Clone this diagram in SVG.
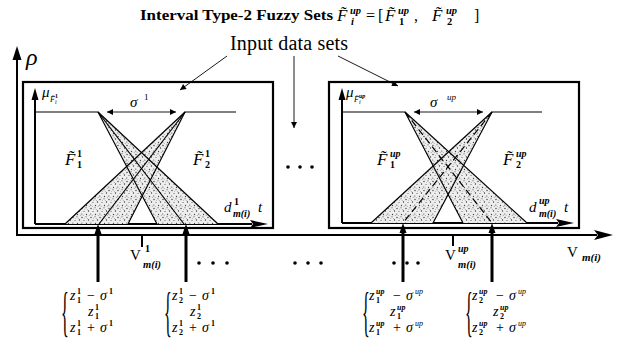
<svg xmlns="http://www.w3.org/2000/svg" width="621" height="343" viewBox="0 0 621 343" font-family="'Liberation Serif', 'Times New Roman', serif">
<style>
text{font-family:"Liberation Serif","Times New Roman",serif;fill:#000}
.i{font-style:italic}
.b{font-weight:bold}
.bi{font-weight:bold;font-style:italic}
.ax{stroke:#000;stroke-width:2;fill:none}
.box{stroke:#000;stroke-width:2.2;fill:none}
.tl{stroke:#000;stroke-width:1.2;fill:none}
.thin{stroke:#000;stroke-width:0.9;fill:none}
.up{stroke:#000;stroke-width:3;fill:none}
.tri{fill:url(#st);stroke:none}
</style>
<defs>
<pattern id="st" width="9" height="9" patternUnits="userSpaceOnUse">
<rect width="9" height="9" fill="#eeeeee"/>
<circle cx="1" cy="1.5" r="0.65" fill="#333"/>
<circle cx="5" cy="0.8" r="0.55" fill="#444"/>
<circle cx="7.5" cy="4" r="0.65" fill="#333"/>
<circle cx="3" cy="4.5" r="0.55" fill="#555"/>
<circle cx="0.8" cy="7" r="0.55" fill="#333"/>
<circle cx="5.5" cy="7.5" r="0.65" fill="#444"/>
<circle cx="8.2" cy="8.3" r="0.45" fill="#555"/>
<circle cx="3.5" cy="2.2" r="0.4" fill="#666"/>
<circle cx="6.3" cy="2.7" r="0.4" fill="#555"/>
<circle cx="2.2" cy="8.4" r="0.4" fill="#555"/>
</pattern>
<marker id="ah" viewBox="0 0 10 10" refX="10" refY="5" markerWidth="7" markerHeight="6" markerUnits="userSpaceOnUse" orient="auto-start-reverse">
<path d="M0,0 L10,5 L0,10 z" fill="#000"/>
</marker>
</defs>

<!-- Title -->
<g id="title">
<text class="b" x="140" y="20" font-size="15" textLength="193" lengthAdjust="spacingAndGlyphs">Interval Type-2 Fuzzy Sets</text>
<text class="i" x="337" y="21" font-size="17">F&#x303;</text>
<text class="bi" x="350" y="14" font-size="10.5">up</text>
<text class="bi" x="351" y="25" font-size="10.5">i</text>
<text x="366" y="21" font-size="16">=</text>
<text x="378" y="21" font-size="16">[</text>
<text class="i" x="385" y="21" font-size="17">F&#x303;</text>
<text class="bi" x="398" y="14" font-size="10.5">up</text>
<text class="b" x="399" y="25" font-size="10.5">1</text>
<text x="414" y="21" font-size="16">,</text>
<text class="i" x="432" y="21" font-size="17">F&#x303;</text>
<text class="bi" x="446" y="14" font-size="10.5">up</text>
<text class="b" x="447" y="25" font-size="10.5">2</text>
<text x="474" y="21" font-size="16">]</text>
</g>

<g id="input-label">
<text x="230" y="50" font-size="20" textLength="118">Input data sets</text>
</g>

<!-- Outer axes -->
<g id="outer-axes">
<polyline class="ax" points="17,58 17,235 597,235"/>
<polygon points="17,46 12.5,60 21.5,60" fill="#000"/>
<polygon points="613,235 594,230 598,235 594,240" fill="#000"/>
<text class="i" x="26" y="65" font-size="24">ρ</text>
</g>

<!-- Left box -->
<g id="box-left">
<rect class="box" x="23" y="82" width="250" height="146"/>
<line class="ax" x1="35" y1="224" x2="35" y2="98"/>
<polygon points="35,88 31.5,100 38.5,100" fill="#000"/>
<line class="ax" x1="35" y1="224" x2="252" y2="224"/>
<polygon points="268,224 250,220 253,224 250,228" fill="#000"/>
<text class="i" x="42" y="97" font-size="15">μ</text>
<text class="i" x="50" y="102" font-size="8">F&#x303;</text>
<text class="i" x="55" y="104" font-size="6">i</text>
<text class="b" x="55" y="98" font-size="6">1</text>
<polygon class="tri" points="185,112 65,224 128,224"/>
<polygon class="tri" points="98,112 157,224 218,224"/>
<polyline class="tl" points="35,112 98,112 157,224"/>
<line class="tl" x1="98" y1="112" x2="218" y2="224"/>
<line class="tl" x1="98" y1="112" x2="184" y2="224"/>
<polyline class="tl" points="236,112 185,112 128,224"/>
<line class="tl" x1="185" y1="112" x2="65" y2="224"/>
<line class="tl" x1="185" y1="112" x2="99" y2="224"/>
<line class="thin" x1="107" y1="112" x2="176" y2="112" marker-start="url(#ah)" marker-end="url(#ah)"/>
<text class="i" x="130" y="107" font-size="15">σ</text>
<text x="144" y="100" font-size="9">1</text>
<text class="i" x="65" y="165" font-size="17">F&#x303;</text>
<text class="b" x="77" y="157" font-size="10">1</text>
<text class="b" x="77" y="168" font-size="10">1</text>
<text class="i" x="193" y="165" font-size="17">F&#x303;</text>
<text class="b" x="205" y="157" font-size="10">1</text>
<text class="b" x="205" y="168" font-size="10">2</text>
<text class="i" x="224" y="212" font-size="15">d</text>
<text class="b" x="234" y="205" font-size="10">1</text>
<text class="bi" x="233" y="217" font-size="10">m(i)</text>
<text class="i" x="258" y="212" font-size="15">t</text>
</g>

<!-- Right box -->
<g id="box-right">
<rect class="box" x="329" y="82" width="250" height="146"/>
<line class="ax" x1="342" y1="223" x2="342" y2="98"/>
<polygon points="342,88 338.5,100 345.5,100" fill="#000"/>
<line class="ax" x1="342" y1="223" x2="558" y2="223"/>
<polygon points="574,223 556,219 559,223 556,227" fill="#000"/>
<text class="i" x="346" y="97" font-size="15">μ</text>
<text class="i" x="354" y="102" font-size="8">F&#x303;</text>
<text class="i" x="359" y="104" font-size="6">i</text>
<text class="bi" x="359" y="98" font-size="6">up</text>
<polygon class="tri" points="492,112 371,223 433,223"/>
<polygon class="tri" points="405,112 463,223 527,223"/>
<polyline class="tl" points="342,112 405,112 463,223"/>
<line class="tl" x1="405" y1="112" x2="527" y2="223"/>
<line class="tl" x1="405" y1="112" x2="492" y2="223" stroke-dasharray="7,4"/>
<polyline class="tl" points="542,112 492,112 433,223"/>
<line class="tl" x1="492" y1="112" x2="371" y2="223"/>
<line class="tl" x1="492" y1="112" x2="403" y2="223" stroke-dasharray="7,4"/>
<line class="thin" x1="414" y1="112" x2="483" y2="112" marker-start="url(#ah)" marker-end="url(#ah)"/>
<text class="i" x="430" y="107" font-size="15">σ</text>
<text class="i" x="447" y="100" font-size="9">up</text>
<text class="i" x="377" y="165" font-size="17">F&#x303;</text>
<text class="bi" x="390" y="157" font-size="10">up</text>
<text class="b" x="390" y="168" font-size="10">1</text>
<text class="i" x="503" y="165" font-size="17">F&#x303;</text>
<text class="bi" x="516" y="157" font-size="10">up</text>
<text class="b" x="516" y="168" font-size="10">2</text>
<text class="i" x="529" y="212" font-size="15">d</text>
<text class="bi" x="539" y="204" font-size="10">up</text>
<text class="bi" x="539" y="217" font-size="10">m(i)</text>
<text class="i" x="564" y="212" font-size="15">t</text>
</g>

<!-- Connectors -->
<g id="connectors">
<line class="thin" x1="227" y1="56" x2="180" y2="90" marker-end="url(#ah)"/>
<line class="thin" x1="294" y1="56" x2="294" y2="128" marker-end="url(#ah)"/>
<line class="thin" x1="338" y1="56" x2="398" y2="86" marker-end="url(#ah)"/>
<line class="up" x1="98" y1="282" x2="98" y2="232"/>
<polygon points="98,224 94.5,234 101.5,234" fill="#000"/>
<line class="up" x1="186" y1="282" x2="186" y2="232"/>
<polygon points="186,224 182.5,234 189.5,234" fill="#000"/>
<line class="up" x1="403" y1="282" x2="403" y2="231"/>
<polygon points="403,223 399.5,233 406.5,233" fill="#000"/>
<line class="up" x1="492" y1="282" x2="492" y2="231"/>
<polygon points="492,223 488.5,233 495.5,233" fill="#000"/>
<line class="ax" x1="142" y1="235" x2="142" y2="247"/>
<line class="ax" x1="453" y1="235" x2="453" y2="246"/>
</g>

<!-- Dots -->
<g id="dots" fill="#000">
<circle cx="288" cy="167" r="1.8"/><circle cx="300" cy="167" r="1.8"/><circle cx="312" cy="167" r="1.8"/>
<circle cx="199" cy="263" r="1.8"/><circle cx="213" cy="263" r="1.8"/><circle cx="227" cy="263" r="1.8"/>
<circle cx="295" cy="263" r="1.8"/><circle cx="308" cy="263" r="1.8"/><circle cx="321" cy="263" r="1.8"/>
<circle cx="394" cy="263" r="1.8"/><circle cx="407" cy="263" r="1.8"/><circle cx="418" cy="263" r="1.8"/>
</g>

<!-- V labels -->
<g id="v-labels">
<text x="130" y="260" font-size="15">V</text>
<text class="b" x="145" y="252" font-size="10">1</text>
<text class="bi" x="143" y="268" font-size="10.5">m(i)</text>
<text x="445" y="260" font-size="15">V</text>
<text class="bi" x="458" y="252" font-size="10">up</text>
<text class="bi" x="458" y="268" font-size="10.5">m(i)</text>
<text x="567" y="257" font-size="15">V</text>
<text class="bi" x="582" y="261" font-size="11">m(i)</text>
</g>

<!-- Interval labels -->
<g id="interval-1">
<text transform="translate(61,330) scale(0.3,1)" font-size="54">{</text>
<text class="i" x="70" y="300" font-size="14">z</text>
<text class="b" x="77" y="294" font-size="8">1</text>
<text class="b" x="77" y="303" font-size="8">1</text>
<text x="87" y="300" font-size="14">−</text>
<text class="i" x="100" y="300" font-size="14">σ</text>
<text class="b" x="109" y="294" font-size="8">1</text>
<text class="i" x="88" y="316" font-size="14">z</text>
<text class="b" x="95" y="310" font-size="8">1</text>
<text class="b" x="95" y="319" font-size="8">1</text>
<text class="i" x="70" y="332" font-size="14">z</text>
<text class="b" x="77" y="326" font-size="8">1</text>
<text class="b" x="77" y="335" font-size="8">1</text>
<text x="87" y="332" font-size="14">+</text>
<text class="i" x="100" y="332" font-size="14">σ</text>
<text class="b" x="109" y="326" font-size="8">1</text>
</g>
<g id="interval-2">
<text transform="translate(164,330) scale(0.3,1)" font-size="54">{</text>
<text class="i" x="172" y="300" font-size="14">z</text>
<text class="b" x="179" y="294" font-size="8">1</text>
<text class="b" x="179" y="303" font-size="8">2</text>
<text x="189" y="300" font-size="14">−</text>
<text class="i" x="202" y="300" font-size="14">σ</text>
<text class="b" x="211" y="294" font-size="8">1</text>
<text class="i" x="190" y="316" font-size="14">z</text>
<text class="b" x="197" y="310" font-size="8">1</text>
<text class="b" x="197" y="319" font-size="8">2</text>
<text class="i" x="172" y="332" font-size="14">z</text>
<text class="b" x="179" y="326" font-size="8">1</text>
<text class="b" x="179" y="335" font-size="8">2</text>
<text x="189" y="332" font-size="14">+</text>
<text class="i" x="202" y="332" font-size="14">σ</text>
<text class="b" x="211" y="326" font-size="8">1</text>
</g>
<g id="interval-3">
<text transform="translate(362,330) scale(0.3,1)" font-size="54">{</text>
<text class="i" x="369" y="300" font-size="14">z</text>
<text class="bi" x="376" y="294" font-size="8">up</text>
<text class="b" x="376" y="303" font-size="8">1</text>
<text x="393" y="300" font-size="14">−</text>
<text class="i" x="406" y="300" font-size="14">σ</text>
<text class="i" x="415" y="294" font-size="8">up</text>
<text class="i" x="390" y="316" font-size="14">z</text>
<text class="bi" x="397" y="310" font-size="8">up</text>
<text class="b" x="397" y="319" font-size="8">1</text>
<text class="i" x="369" y="332" font-size="14">z</text>
<text class="bi" x="376" y="326" font-size="8">up</text>
<text class="b" x="376" y="335" font-size="8">1</text>
<text x="393" y="332" font-size="14">+</text>
<text class="i" x="406" y="332" font-size="14">σ</text>
<text class="i" x="415" y="326" font-size="8">up</text>
</g>
<g id="interval-4">
<text transform="translate(465,330) scale(0.3,1)" font-size="54">{</text>
<text class="i" x="472" y="300" font-size="14">z</text>
<text class="bi" x="479" y="294" font-size="8">up</text>
<text class="b" x="479" y="303" font-size="8">2</text>
<text x="496" y="300" font-size="14">−</text>
<text class="i" x="509" y="300" font-size="14">σ</text>
<text class="i" x="518" y="294" font-size="8">up</text>
<text class="i" x="493" y="316" font-size="14">z</text>
<text class="bi" x="500" y="310" font-size="8">up</text>
<text class="b" x="500" y="319" font-size="8">2</text>
<text class="i" x="472" y="332" font-size="14">z</text>
<text class="bi" x="479" y="326" font-size="8">up</text>
<text class="b" x="479" y="335" font-size="8">2</text>
<text x="496" y="332" font-size="14">+</text>
<text class="i" x="509" y="332" font-size="14">σ</text>
<text class="i" x="518" y="326" font-size="8">up</text>
</g>
</svg>
